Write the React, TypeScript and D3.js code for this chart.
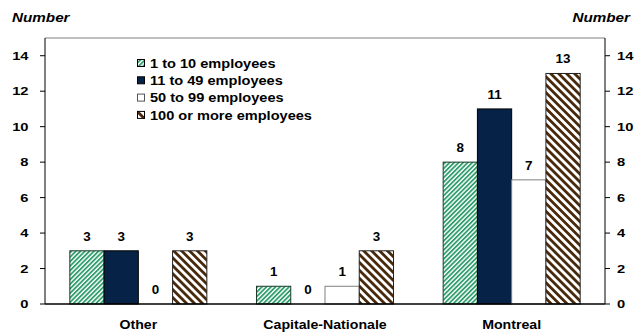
import React from "react";
import * as d3 from "d3";

const categories = ["Other", "Capitale-Nationale", "Montreal"];
const seriesNames = ["1 to 10 employees", "11 to 49 employees", "50 to 99 employees", "100 or more employees"];
const s1to10 = [3, 1, 8];
const s11to49 = [3, 0, 11];
const s50to99 = [0, 1, 7];
const s100plus = [3, 3, 13];
const yTicks = [0, 2, 4, 6, 8, 10, 12, 14];

const W = 642, H = 333;
const left = 45, right = 605, top = 38, bottom = 304;
const font = "Arial, 'Liberation Sans', sans-serif";

const fills = ["url(#pGreen)", "#072247", "#ffffff", "url(#pBrown)"];
const strokes = ["#1f3a2a", "#000000", "#808080", "#222222"];

type TP = { x: number; y: number; sx: number; size: number; anchor?: string; italic?: boolean; dy?: string; children: React.ReactNode };
function T({ x, y, sx, size, anchor = "start", italic = false, dy, children }: TP) {
  return (
    <text transform={`translate(${x},${y}) scale(${sx},1)`} dy={dy} fontSize={size} fontWeight="bold"
      fontStyle={italic ? "italic" : "normal"} textAnchor={anchor} fill="#000">
      {children}
    </text>
  );
}

export default function App() {
  const values = [s1to10, s11to49, s50to99, s100plus];
  const x = d3.scaleBand<string>().domain(categories).range([left, right]).paddingInner(0.266).paddingOuter(0.133);
  const xs = d3.scaleBand<number>().domain([0, 1, 2, 3]).range([0, x.bandwidth()]).padding(0);
  const y = d3.scaleLinear().domain([0, 15]).range([bottom, top]);

  return (
    <svg width={W} height={H} style={{ position: "absolute", left: 0, top: 0, background: "#fff" }} fontFamily={font}>
      <defs>
        <pattern id="pGreen" patternUnits="userSpaceOnUse" width={3.2} height={3.2} patternTransform="rotate(45)">
          <rect width={3.2} height={3.2} fill="#ffffff" />
          <rect width={1.8} height={3.2} fill="#2f9d6c" />
        </pattern>
        <pattern id="pBrown" patternUnits="userSpaceOnUse" width={5.6} height={5.6} patternTransform="rotate(-45)">
          <rect width={5.6} height={5.6} fill="#ffffff" />
          <rect width={2.8} height={5.6} fill="#4a2a0c" />
        </pattern>
      </defs>
      <rect width={W} height={H} fill="#fff" />
      <T x={12} y={22} sx={1.27} size={12} italic>Number</T>
      <T x={630} y={22} sx={1.27} size={12} italic anchor="end">Number</T>

      <line x1={left} x2={right} y1={top} y2={top} stroke="#808080" strokeWidth={1} />

      {yTicks.map((t) => (
        <g key={t}>
          <line x1={left - 5} x2={left} y1={y(t)} y2={y(t)} stroke="#000" />
          <line x1={right} x2={right + 5} y1={y(t)} y2={y(t)} stroke="#000" />
          <T x={28.5} y={y(t)} dy="0.36em" sx={1.28} size={11.5} anchor="end">{t}</T>
          <T x={617} y={y(t)} dy="0.36em" sx={1.28} size={11.5}>{t}</T>
        </g>
      ))}

      {categories.map((c, ci) => (
        <g key={c}>
          {values.map((vals, si) => {
            const v = vals[ci];
            const bx = (x(c) as number) + (xs(si) as number);
            const bw = xs.bandwidth();
            return (
              <g key={si}>
                {v > 0 && (
                  <rect x={bx} y={y(v)} width={bw} height={y(0) - y(v)} fill={fills[si]} stroke={strokes[si]} strokeWidth={1} />
                )}
                <T x={bx + bw / 2} y={y(v) - 10} sx={1.12} size={12} anchor="middle">{v}</T>
              </g>
            );
          })}
          <T x={(x(c) as number) + x.bandwidth() / 2} y={329} sx={1.18} size={12} anchor="middle">{c}</T>
        </g>
      ))}

      <line x1={left} x2={left} y1={top} y2={bottom} stroke="#000" />
      <line x1={right} x2={right} y1={top} y2={bottom} stroke="#000" />
      <line x1={left} x2={right} y1={bottom} y2={bottom} stroke="#000" strokeWidth={1.5} />

      {seriesNames.map((n, i) => {
        const ly = 63.5 + i * 17.3;
        return (
          <g key={n}>
            <rect x={137.5} y={ly - 4} width={7} height={7} fill={fills[i]} stroke={i === 2 ? "#555" : "#000"} strokeWidth={1} />
            <T x={150} y={ly} dy="0.36em" sx={1.215} size={12}>{n}</T>
          </g>
        );
      })}
    </svg>
  );
}
